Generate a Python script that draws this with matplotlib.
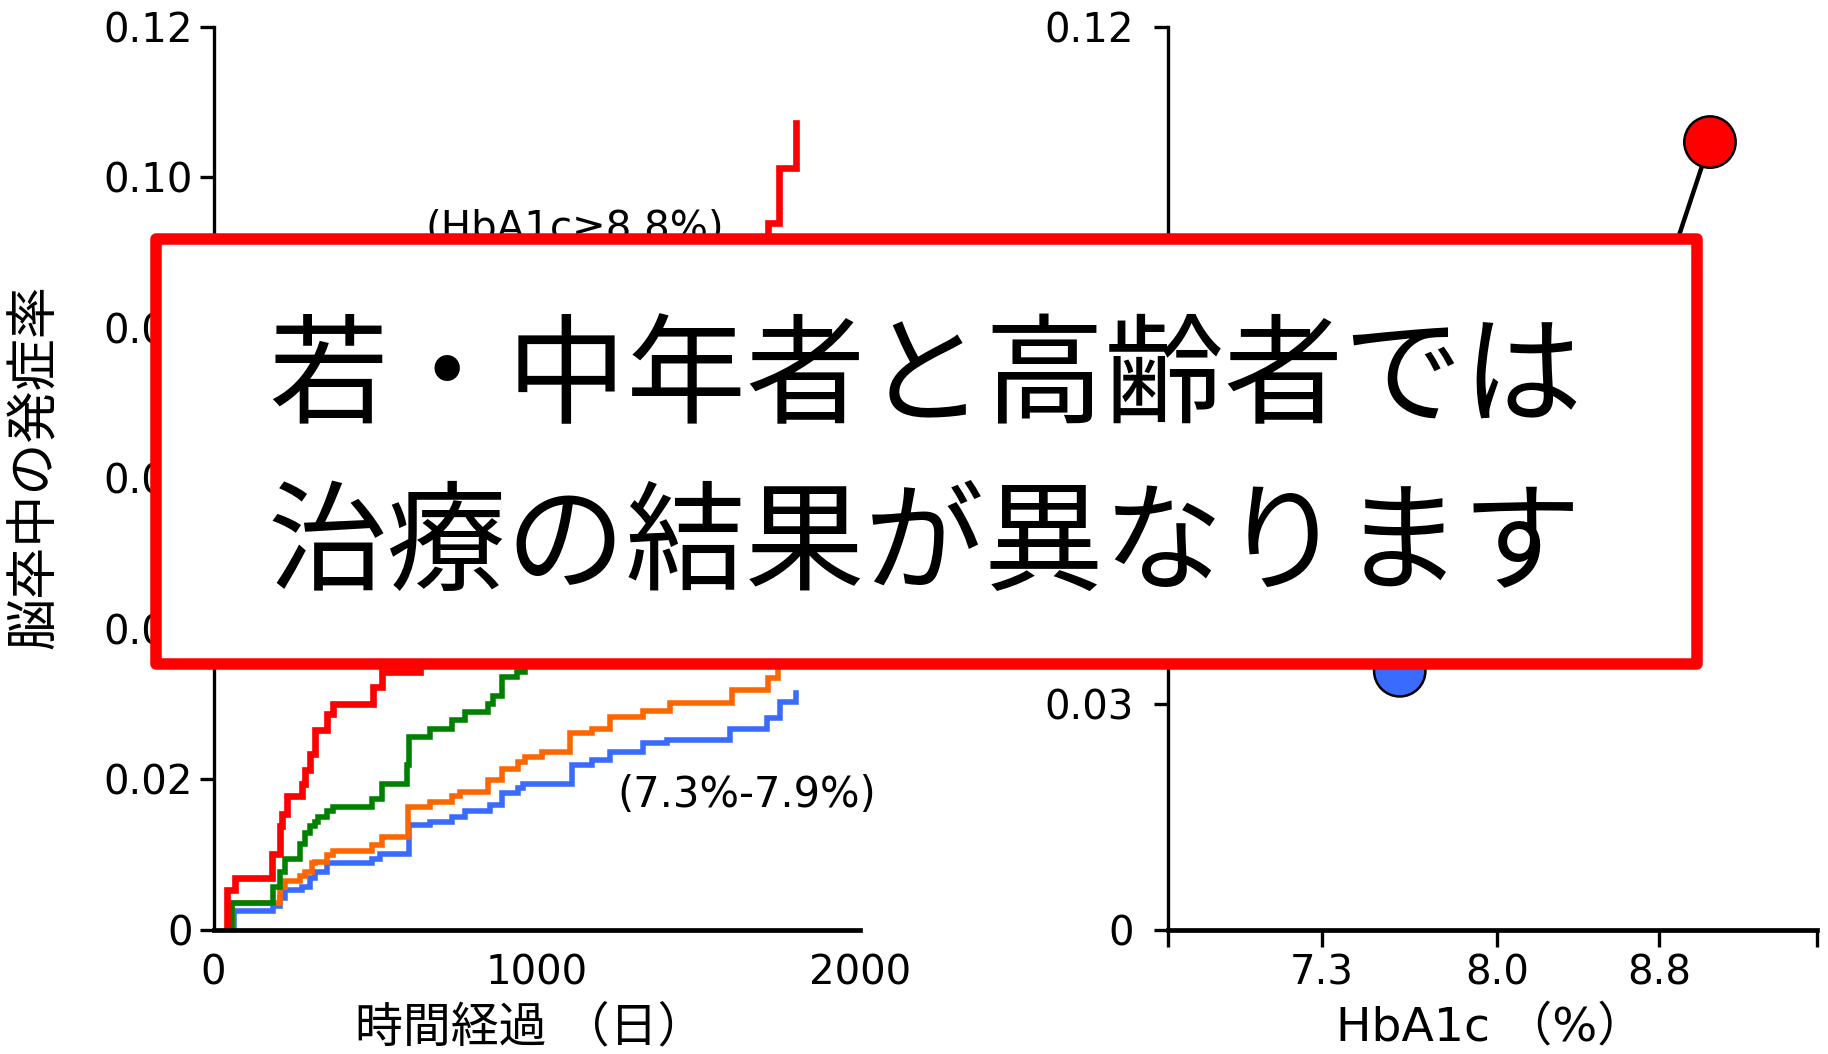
import numpy as np
import matplotlib
matplotlib.use("Agg")
import matplotlib.pyplot as plt
from matplotlib.patches import Rectangle

plt.rcParams["font.family"] = ["DejaVu Sans", "Noto Sans CJK JP"]

# --- left panel: cumulative stroke incidence, event day -> value after the step
red_days = [41, 66, 180, 205, 212, 228, 273, 283, 298, 314, 350, 371, 494, 520,
            640, 800, 980, 1150, 1330, 1500, 1650, 1716, 1750, 1801]
red_vals = [0.0053, 0.0068, 0.0101, 0.0137, 0.0154, 0.0177, 0.0194, 0.0212, 0.0234,
            0.0265, 0.0287, 0.0300, 0.0323, 0.0343, 0.042, 0.050, 0.058, 0.066,
            0.074, 0.081, 0.088, 0.0939, 0.1012, 0.1072]

green_days = [58, 183, 206, 221, 268, 283, 298, 314, 324, 350, 371, 489, 520, 598,
              606, 670, 737, 778, 850, 866, 891, 938, 964, 1050, 1150, 1250, 1400,
              1550, 1700, 1802]
green_vals = [0.0035, 0.0057, 0.0077, 0.0094, 0.0114, 0.0128, 0.0137, 0.0143, 0.0150,
              0.0157, 0.0163, 0.0174, 0.0194, 0.0219, 0.0256, 0.0267, 0.0278, 0.0289,
              0.0300, 0.0311, 0.0336, 0.0343, 0.0355, 0.038, 0.041, 0.044, 0.047,
              0.050, 0.053, 0.055]

orange_days = [58, 206, 221, 268, 283, 304, 314, 350, 371, 489, 520, 602, 670, 737,
               763, 850, 891, 943, 963, 1015, 1103, 1170, 1227, 1330, 1412, 1603,
               1716, 1747, 1802]
orange_vals = [0.0035, 0.0057, 0.0064, 0.0071, 0.0077, 0.0088, 0.0090, 0.0099, 0.0105,
               0.0112, 0.0123, 0.0163, 0.0170, 0.0177, 0.0183, 0.0199, 0.0214, 0.0223,
               0.0230, 0.0236, 0.0261, 0.0267, 0.0283, 0.0290, 0.0301, 0.0318,
               0.0334, 0.0362, 0.0375]

blue_days = [62, 185, 206, 221, 273, 298, 314, 350, 489, 515, 606, 670, 737, 778,
             855, 891, 943, 958, 1108, 1170, 1227, 1330, 1402, 1598, 1712, 1753, 1802]
blue_vals = [0.0024, 0.0031, 0.0042, 0.0052, 0.0057, 0.0068, 0.0077, 0.0088, 0.0094,
             0.0101, 0.0139, 0.0143, 0.0150, 0.0157, 0.0165, 0.0181, 0.0188, 0.0194,
             0.0219, 0.0225, 0.0236, 0.0248, 0.0252, 0.0266, 0.0281, 0.0303, 0.0314]

left_xticks = [0, 1000, 2000]
left_yticks = [0, 0.02, 0.04, 0.06, 0.08, 0.10, 0.12]
left_ylabels = ["0", "0.02", "0.04", "0.06", "0.08", "0.10", "0.12"]

# --- right panel: incidence by HbA1c group
groups = ["<7.3%", "7.3%-7.9%", "8.0%-8.8%", "≥8.8%"]
incidence = [0.042, 0.0344, 0.0425, 0.1047]
group_colors = ["#ff6600", "#3a6bff", "#008000", "#ff0000"]
right_xlabels = ["7.3", "8.0", "8.8"]
right_yticks = [0, 0.03, 0.06, 0.09, 0.12]
right_ylabels = ["0", "0.03", "0.06", "0.09", "0.12"]

message = "若・中年者と高齢者では\n治療の結果が異なります"

TICK_FS = 29


def step_curve(ax, days, vals, color, lw):
    x = [days[0]] + list(days)
    y = [0] + list(vals)
    ax.step(x, y, where="post", color=color, lw=lw, solid_joinstyle="miter")


fig = plt.figure(figsize=(18.28, 10.54), dpi=100)

# left panel
ax1 = fig.add_axes([0.1168, 0.1181, 0.3537, 0.8563])
step_curve(ax1, blue_days, blue_vals, "#3a6bff", 4.0)
step_curve(ax1, orange_days, orange_vals, "#ff6600", 4.0)
step_curve(ax1, green_days, green_vals, "#008000", 4.0)
step_curve(ax1, red_days, red_vals, "#ff0000", 4.8)
ax1.set_xlim(0, 2000)
ax1.set_ylim(0, 0.12)
ax1.set_xticks(left_xticks)
ax1.set_xticklabels([str(v) for v in left_xticks])
ax1.set_yticks(left_yticks)
ax1.set_yticklabels(left_ylabels)
ax1.tick_params(axis="x", length=0, pad=17, labelsize=TICK_FS)
ax1.tick_params(axis="y", length=10, width=2.4, pad=5, labelsize=TICK_FS)
for s in ["top", "right"]:
    ax1.spines[s].set_visible(False)
ax1.spines["left"].set_linewidth(2.4)
ax1.spines["bottom"].set_linewidth(3.4)
ax1.text(1118, 0.0918, "(HbA1c≥8.8%)", fontsize=TICK_FS, ha="center", va="baseline")
ax1.text(1650, 0.0163, "(7.3%-7.9%)", fontsize=30, ha="center", va="baseline")

# right panel
ax2 = fig.add_axes([0.6392, 0.1181, 0.3547, 0.8563])
xpos = np.arange(len(groups))
ax2.plot(xpos, incidence, color="black", lw=3.2, zorder=2)
ax2.scatter(xpos, incidence, s=37 ** 2, c=group_colors, edgecolors="black",
            linewidths=1.8, zorder=3, clip_on=False)
ax2.set_xlim(-0.491, 3.689)
ax2.set_ylim(0, 0.12)
ax2.set_xticks([-0.491, 0.5, 1.63, 2.67, 3.689])
ax2.set_xticklabels([""] + right_xlabels + [""])
ax2.set_yticks(right_yticks)
ax2.set_yticklabels(right_ylabels)
ax2.tick_params(axis="x", length=12, width=2.4, pad=5, labelsize=TICK_FS)
ax2.tick_params(axis="y", length=10, width=2.4, pad=15, labelsize=TICK_FS)
for s in ["top", "right"]:
    ax2.spines[s].set_visible(False)
ax2.spines["left"].set_linewidth(2.4)
ax2.spines["bottom"].set_linewidth(3.4)

# axis titles
fig.text(530 / 1828, 1 - 1028 / 1054, "時間経過 （日）", fontsize=34.5, ha="center", va="center")
fig.text(1490 / 1828, 1 - 1028 / 1054, "HbA1c （%）", fontsize=34, ha="center", va="center")
fig.text(36 / 1828, 1 - 467 / 1054, "脳卒中の発症率", fontsize=37.5, rotation=90,
         ha="center", va="center")

# overlay message box
box = Rectangle((0.0851, 0.3700), 0.9283 - 0.0851, 0.7728 - 0.3700,
                transform=fig.transFigure, facecolor="white", edgecolor="#ff0000",
                lw=8.3, joinstyle="round", zorder=10)
fig.add_artist(box)
fig.text(0.506, 1 - 464 / 1054, message, fontsize=86, family="Noto Sans CJK JP",
         ha="center", va="center", multialignment="center", linespacing=1.45,
         zorder=11)

fig.savefig("out.png", dpi=100, facecolor="white")
